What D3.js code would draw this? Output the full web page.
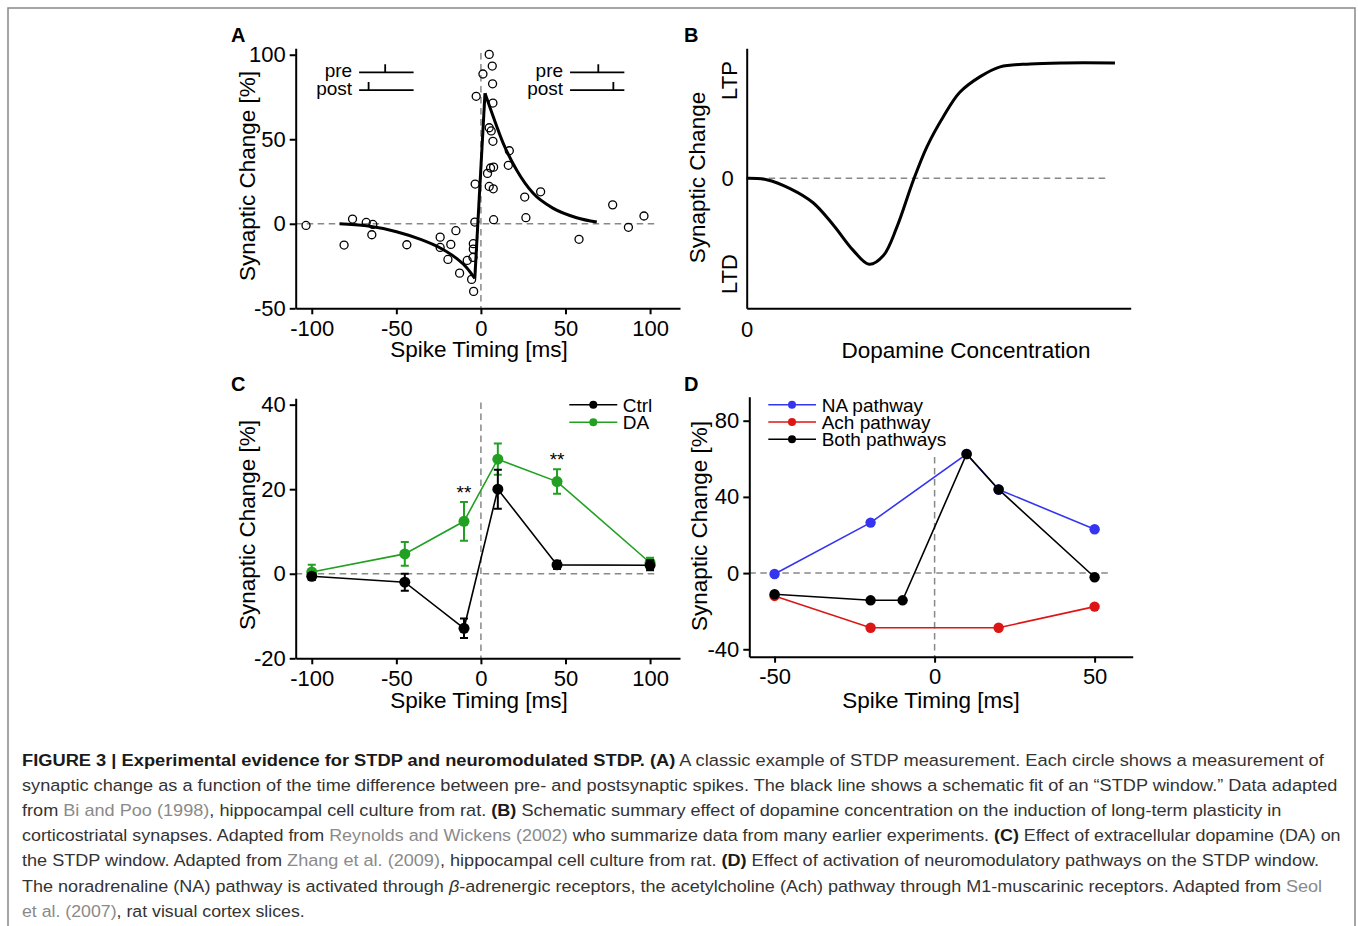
<!DOCTYPE html>
<html><head><meta charset="utf-8">
<script src="https://cdn.jsdelivr.net/npm/d3@7/dist/d3.min.js"></script>
<style>
html,body{margin:0;padding:0;background:#fff;}
svg{display:block;}
</style></head>
<body>
<script>
// ---------- DATA ----------
// Panel A: Bi & Poo scatter (spike timing ms, synaptic change %)
const aTiming = [-103.4,-80.9,-75.9,-67.8,-63.9,-64.5,-43.8,-24.1,-24.1,-19.5,-17.8,-14.8,-12.6,-8.1,-4.5,-4.5,-4.7,-5.5,-4.3,-3.6,-3.4,-2.8,1.2,4.9,6.7,6.9,7.1,4.9,6.1,7.1,3.9,5.7,7.5,4.9,7.3,7.5,16.8,16.2,25.9,26.6,35.3,58.0,77.9,87.2,96.4];
const aChange = [-1.0,-12.6,2.8,0.8,-0.4,-6.5,-12.4,-7.9,-14.0,-21.1,-12.2,-4.1,-29.2,-21.7,-11.8,-15.0,-19.9,-32.9,-40.0,1.0,23.5,75.4,88.6,100.2,93.3,82.8,71.4,56.8,54.9,48.8,29.8,33.0,33.5,22.1,20.7,2.4,43.2,34.6,15.8,3.6,18.9,-9.2,11.2,-2.1,4.6];
// Panel A: schematic STDP window fit
const fitLtdT = [-83.6,-67.6,-49.9,-36.1,-24.3,-14.4,-8.5,-3.6];
const fitLtdY = [0,-1.2,-4.7,-9.1,-14.2,-20.5,-25.8,-32.3];
const fitLtpT = [2.4,7.3,13.2,21.1,30.9,42.8,56.6,68.5];
const fitLtpY = [77.2,63.3,47.6,31.8,18.0,9.1,3.6,1.0];
const aXTicks = [-100,-50,0,50,100];
const aYTicks = [-50,0,50,100];
// Panel A inset spike diagrams (data units): line start/end, pre tick, post tick
const insetLabels = ["pre","post"];
const insetLeft  = {x0:-72, x1:-39.8, pre:-56.6, post:-66.4};
const insetRight = {x0:52.7, x1:84.8, pre:69.4, post:78.3};
const insetRowY = [89.6, 79.1];

// Panel B: dopamine concentration vs synaptic change (schematic units)
const bConc   = [0,5.2,11.3,17.3,22.6,27.8,31.9,35.6,39.1,43.4,46.9,51.2,55.5,60.8,66.0,73.8,82.5,95.9];
const bChange = [0,-0.014,-0.105,-0.25,-0.48,-0.74,-0.88,-0.79,-0.50,-0.02,0.32,0.63,0.88,1.04,1.14,1.17,1.18,1.18];
const bYLabels = ["LTP","LTD"];

// Panel C: Zhang et al. 2009
const cTiming = [-100,-45,-10,10,45,100];
const ctrlMean = [-0.6,-2.0,-12.9,20.0,2.1,2.0];
const ctrlErr  = [0.8,2.0,2.3,4.6,1.0,1.2];
const daMean   = [0.4,4.7,12.4,27.1,21.8,2.6];
const daErr    = [1.7,2.8,4.6,3.7,2.9,1.2];
const cSignif  = [-10,45];
const cXTicks = [-100,-50,0,50,100];
const cYTicks = [-20,0,20,40];
const cSeriesNames = ["Ctrl","DA"];

// Panel D: Seol et al. 2007
const naTiming = [-50,-20,10,20,50];
const naChange = [-0.5,26.5,62.5,43.9,23.0];
const achTiming = [-50,-20,20,50];
const achChange = [-12.0,-28.7,-28.7,-17.6];
const bothTiming = [-50,-20,-10,10,20,50];
const bothChange = [-11.1,-14.3,-14.3,62.5,43.9,-2.2];
const dSeriesNames = ["NA pathway","Ach pathway","Both pathways"];
const dXTicks = [-50,0,50];
const dYTicks = [-40,0,40,80];

// Caption
const captionLines = [
  [["b","FIGURE 3 | Experimental evidence for STDP and neuromodulated STDP. (A)"],["n"," A classic example of STDP measurement. Each circle shows a measurement of"]],
  [["n","synaptic change as a function of the time difference between pre- and postsynaptic spikes. The black line shows a schematic fit of an \u201CSTDP window.\u201D Data adapted"]],
  [["n","from "],["l","Bi and Poo (1998)"],["n",", hippocampal cell culture from rat. "],["b","(B)"],["n"," Schematic summary effect of dopamine concentration on the induction of long-term plasticity in"]],
  [["n","corticostriatal synapses. Adapted from "],["l","Reynolds and Wickens (2002)"],["n"," who summarize data from many earlier experiments. "],["b","(C)"],["n"," Effect of extracellular dopamine (DA) on"]],
  [["n","the STDP window. Adapted from "],["l","Zhang et al. (2009)"],["n",", hippocampal cell culture from rat. "],["b","(D)"],["n"," Effect of activation of neuromodulatory pathways on the STDP window."]],
  [["n","The noradrenaline (NA) pathway is activated through "],["i","\u03B2"],["n","-adrenergic receptors, the acetylcholine (Ach) pathway through M1-muscarinic receptors. Adapted from "],["l","Seol"]],
  [["l","et al. (2007)"],["n",", rat visual cortex slices."]]
];
const captionEnds = [1325,1338,1282,1342,1320,1323,305];

// ---------- DRAW ----------
const W = 1358, H = 926;
const FONT = "'Liberation Sans', Arial, Helvetica, sans-serif";
const GREEN = "#21a021", BLUE = "#3535f0", RED = "#dd1515";
const svg = d3.select("body").append("svg").attr("width", W).attr("height", H)
  .style("font-family", FONT);
svg.append("rect").attr("width", W).attr("height", H).attr("fill", "#fff");
// figure frame (open at bottom)
svg.append("path").attr("d", `M8,${H+5}V8H1355V${H+5}`).attr("fill","none")
  .attr("stroke","#888").attr("stroke-width",1.5);

function styleAxis(g, fs) {
  g.select(".domain").attr("stroke", "#000").attr("stroke-width", 2);
  g.selectAll(".tick line").attr("stroke", "#000").attr("stroke-width", 2);
  g.selectAll(".tick text").attr("fill", "#000").style("font-size", fs + "px").style("font-family", FONT);
}
const fmt = d => String(d);
function dashed(sel, x1, y1, x2, y2) {
  sel.append("line").attr("x1", x1).attr("y1", y1).attr("x2", x2).attr("y2", y2)
    .attr("stroke", "#888").attr("stroke-width", 1.5).attr("stroke-dasharray", "6.5,4.5");
}
function panelLetter(t, x, y) {
  svg.append("text").attr("x", x).attr("y", y).text(t)
    .style("font-weight", "bold").style("font-size", "20px");
}
function xTitle(t, x, y) {
  svg.append("text").attr("x", x).attr("y", y).attr("text-anchor", "middle")
    .style("font-size", "22.5px").text(t);
}
function yTitle(t, x, y) {
  svg.append("text").attr("transform", `translate(${x},${y}) rotate(-90)`).attr("text-anchor", "middle")
    .style("font-size", "22.5px").text(t);
}

// ===== Panel A =====
const xA = d3.scaleLinear().domain([-109.5, 117.7]).range([295.7, 680]);
const yA = d3.scaleLinear().domain([-50, 103.8]).range([308.3, 48.3]);
const gA = svg.append("g");
dashed(gA, xA.range()[0], yA(0), xA(105), yA(0));
dashed(gA, xA(0), yA(101), xA(0), yA(-50));
gA.append("g").attr("transform", `translate(0,${yA.range()[0]})`)
  .call(d3.axisBottom(xA).tickValues(aXTicks).tickFormat(fmt).tickSize(6).tickSizeOuter(0).tickPadding(6))
  .call(g => styleAxis(g, 22));
gA.append("g").attr("transform", `translate(${xA.range()[0]},0)`)
  .call(d3.axisLeft(yA).tickValues(aYTicks).tickFormat(fmt).tickSize(6).tickSizeOuter(0).tickPadding(4))
  .call(g => styleAxis(g, 22));
const lineA = d3.line().x(d => xA(d[0])).y(d => yA(d[1])).curve(d3.curveMonotoneX);
const ltd = fitLtdT.map((t, i) => [t, fitLtdY[i]]);
const ltp = fitLtpT.map((t, i) => [t, fitLtpY[i]]);
gA.selectAll("circle.pt").data(aTiming.map((t, i) => [t, aChange[i]])).enter()
  .append("circle").attr("cx", d => xA(d[0])).attr("cy", d => yA(d[1])).attr("r", 4)
  .attr("fill", "none").attr("stroke", "#000").attr("stroke-width", 1.3);
gA.append("path").attr("d", lineA(ltd)).attr("fill", "none").attr("stroke", "#000").attr("stroke-width", 3);
gA.append("path").attr("d", d3.line().x(d => xA(d[0])).y(d => yA(d[1]))([ltd[ltd.length - 1], ltp[0]]))
  .attr("fill", "none").attr("stroke", "#000").attr("stroke-width", 3);
gA.append("path").attr("d", lineA(ltp)).attr("fill", "none").attr("stroke", "#000").attr("stroke-width", 3);
// insets
[insetLeft, insetRight].forEach(ins => {
  insetLabels.forEach((lab, i) => {
    const yy = yA(insetRowY[i]);
    const tx = lab === "pre" ? ins.pre : ins.post;
    gA.append("text").attr("x", xA(ins.x0) - 7).attr("y", yy + 4.5).attr("text-anchor", "end")
      .style("font-size", "19px").text(lab);
    gA.append("path").attr("d", `M${xA(ins.x0)},${yy}H${xA(ins.x1)}M${xA(tx)},${yy}V${yy - 8}`)
      .attr("fill", "none").attr("stroke", "#000").attr("stroke-width", 1.8);
  });
});
panelLetter("A", 231, 42);
xTitle("Spike Timing [ms]", 479, 356.7);
yTitle("Synaptic Change [%]", 255, 176);

// ===== Panel B =====
const xB = d3.scaleLinear().domain([0, 100]).range([746.7, 1130.7]);
const yB = d3.scaleLinear().domain([-1.33, 1.33]).range([308.3, 48.3]);
const gB = svg.append("g");
dashed(gB, xB(0), yB(0), xB(94), yB(0));
gB.append("g").attr("transform", `translate(0,${yB.range()[0]})`)
  .call(d3.axisBottom(xB).tickValues([0]).tickFormat(fmt).tickSize(0).tickSizeOuter(0).tickPadding(13))
  .call(g => styleAxis(g, 22));
gB.append("g").attr("transform", `translate(${xB.range()[0]},0)`)
  .call(d3.axisLeft(yB).tickValues([0]).tickFormat(fmt).tickSize(0).tickSizeOuter(0).tickPadding(13))
  .call(g => styleAxis(g, 22));
gB.append("path")
  .attr("d", d3.line().x(d => xB(d[0])).y(d => yB(d[1])).curve(d3.curveCatmullRom.alpha(0.5))(bConc.map((c, i) => [c, bChange[i]])))
  .attr("fill", "none").attr("stroke", "#000").attr("stroke-width", 3);
[[bYLabels[0], 1], [bYLabels[1], -0.98]].forEach(([t, v]) => {
  gB.append("text").attr("transform", `translate(736.5,${yB(v)}) rotate(-90)`).attr("text-anchor", "middle")
    .style("font-size", "22px").text(t);
});
panelLetter("B", 684, 42);
xTitle("Dopamine Concentration", 966, 357.7);
yTitle("Synaptic Change", 705, 177.5);

// ===== Panel C =====
const xC = d3.scaleLinear().domain([-109.5, 117.7]).range([295.7, 680]);
const yC = d3.scaleLinear().domain([-20, 41.5]).range([658.3, 398.3]);
const gC = svg.append("g");
dashed(gC, xC.range()[0], yC(0), xC(104), yC(0));
dashed(gC, xC(0), yC(40.5), xC(0), yC(-20));
gC.append("g").attr("transform", `translate(0,${yC.range()[0]})`)
  .call(d3.axisBottom(xC).tickValues(cXTicks).tickFormat(fmt).tickSize(6).tickSizeOuter(0).tickPadding(6))
  .call(g => styleAxis(g, 22));
gC.append("g").attr("transform", `translate(${xC.range()[0]},0)`)
  .call(d3.axisLeft(yC).tickValues(cYTicks).tickFormat(fmt).tickSize(6).tickSizeOuter(0).tickPadding(4))
  .call(g => styleAxis(g, 22));
function drawSeriesC(means, errs, color) {
  const pts = cTiming.map((t, i) => ({t, m: means[i], e: errs[i]}));
  gC.append("path").attr("d", d3.line().x(d => xC(d.t)).y(d => yC(d.m))(pts))
    .attr("fill", "none").attr("stroke", color).attr("stroke-width", 1.6);
  pts.forEach(d => {
    const x = xC(d.t), y0 = yC(d.m - d.e), y1 = yC(d.m + d.e);
    gC.append("path").attr("d", `M${x},${y0}V${y1}M${x - 4},${y0}H${x + 4}M${x - 4},${y1}H${x + 4}`)
      .attr("fill", "none").attr("stroke", color).attr("stroke-width", 2);
    gC.append("circle").attr("cx", x).attr("cy", yC(d.m)).attr("r", 5.5).attr("fill", color);
  });
}
drawSeriesC(daMean, daErr, GREEN);
drawSeriesC(ctrlMean, ctrlErr, "#000");
cSignif.forEach(t => {
  const i = cTiming.indexOf(t);
  const top = Math.max(ctrlMean[i] + ctrlErr[i], daMean[i] + daErr[i]);
  gC.append("text").attr("x", xC(t)).attr("y", yC(top) - 3).attr("text-anchor", "middle")
    .style("font-size", "19px").text("**");
});
[[cSeriesNames[0], "#000"], [cSeriesNames[1], GREEN]].forEach(([n, c], i) => {
  const y = 404.7 + i * 17.6;
  gC.append("line").attr("x1", 569.3).attr("x2", 617.3).attr("y1", y).attr("y2", y).attr("stroke", c).attr("stroke-width", 1.6);
  gC.append("circle").attr("cx", 593.3).attr("cy", y).attr("r", 4).attr("fill", c);
  gC.append("text").attr("x", 622.7).attr("y", y + 7).style("font-size", "19px").text(n);
});
panelLetter("C", 231, 391);
xTitle("Spike Timing [ms]", 479, 708);
yTitle("Synaptic Change [%]", 255, 525);

// ===== Panel D =====
const xD = d3.scaleLinear().domain([-57.9, 61.9]).range([749.3, 1132.7]);
const yD = d3.scaleLinear().domain([-43.9, 92.6]).range([656.7, 396.7]);
const gD = svg.append("g");
dashed(gD, xD.range()[0], yD(0), xD(54.8), yD(0));
dashed(gD, xD(0), yD(61), xD(0), yD(-43.9));
gD.append("g").attr("transform", `translate(0,${yD.range()[0]})`)
  .call(d3.axisBottom(xD).tickValues(dXTicks).tickFormat(fmt).tickSize(6).tickSizeOuter(0).tickPadding(6))
  .call(g => styleAxis(g, 22));
gD.append("g").attr("transform", `translate(${xD.range()[0]},0)`)
  .call(d3.axisLeft(yD).tickValues(dYTicks).tickFormat(fmt).tickSize(6).tickSizeOuter(0).tickPadding(4))
  .call(g => styleAxis(g, 22));
const dSeries = [
  {name: dSeriesNames[0], t: naTiming, v: naChange, c: BLUE},
  {name: dSeriesNames[1], t: achTiming, v: achChange, c: RED},
  {name: dSeriesNames[2], t: bothTiming, v: bothChange, c: "#000"}
];
dSeries.forEach(s => {
  const pts = s.t.map((t, i) => [t, s.v[i]]);
  gD.append("path").attr("d", d3.line().x(d => xD(d[0])).y(d => yD(d[1]))(pts))
    .attr("fill", "none").attr("stroke", s.c).attr("stroke-width", 1.6);
  gD.selectAll(null).data(pts).enter().append("circle")
    .attr("cx", d => xD(d[0])).attr("cy", d => yD(d[1])).attr("r", 5.2).attr("fill", s.c);
});
dSeries.forEach((s, i) => {
  const y = 404.7 + i * 17.3;
  gD.append("line").attr("x1", 768.3).attr("x2", 816).attr("y1", y).attr("y2", y).attr("stroke", s.c).attr("stroke-width", 1.6);
  gD.append("circle").attr("cx", 792).attr("cy", y).attr("r", 4).attr("fill", s.c);
  gD.append("text").attr("x", 821.7).attr("y", y + 7).style("font-size", "19px").text(s.name);
});
panelLetter("D", 684, 391);
xTitle("Spike Timing [ms]", 931, 707.7);
yTitle("Synaptic Change [%]", 706.7, 526);

// ===== Caption =====
const capG = svg.append("g");
captionLines.forEach((segs, li) => {
  const y = 766 + li * 25.1;
  const t = capG.append("text").attr("x", 0).attr("y", 0).style("font-size", "17px")
    .style("font-family", "'Liberation Sans Narrow', 'Liberation Sans', Arial, sans-serif");
  segs.forEach(([k, s]) => {
    const sp = t.append("tspan").text(s);
    if (k === "b") sp.style("font-weight", "bold").attr("fill", "#1a1a1a");
    else if (k === "l") sp.attr("fill", "#8a8a8a");
    else if (k === "i") sp.style("font-style", "italic").attr("fill", "#333");
    else sp.attr("fill", "#333");
  });
  const natural = t.node().getComputedTextLength();
  const target = captionEnds[li] - 22;
  t.attr("transform", `translate(22,${y}) scale(${target / natural},1)`);
});
</script>
</body></html>
